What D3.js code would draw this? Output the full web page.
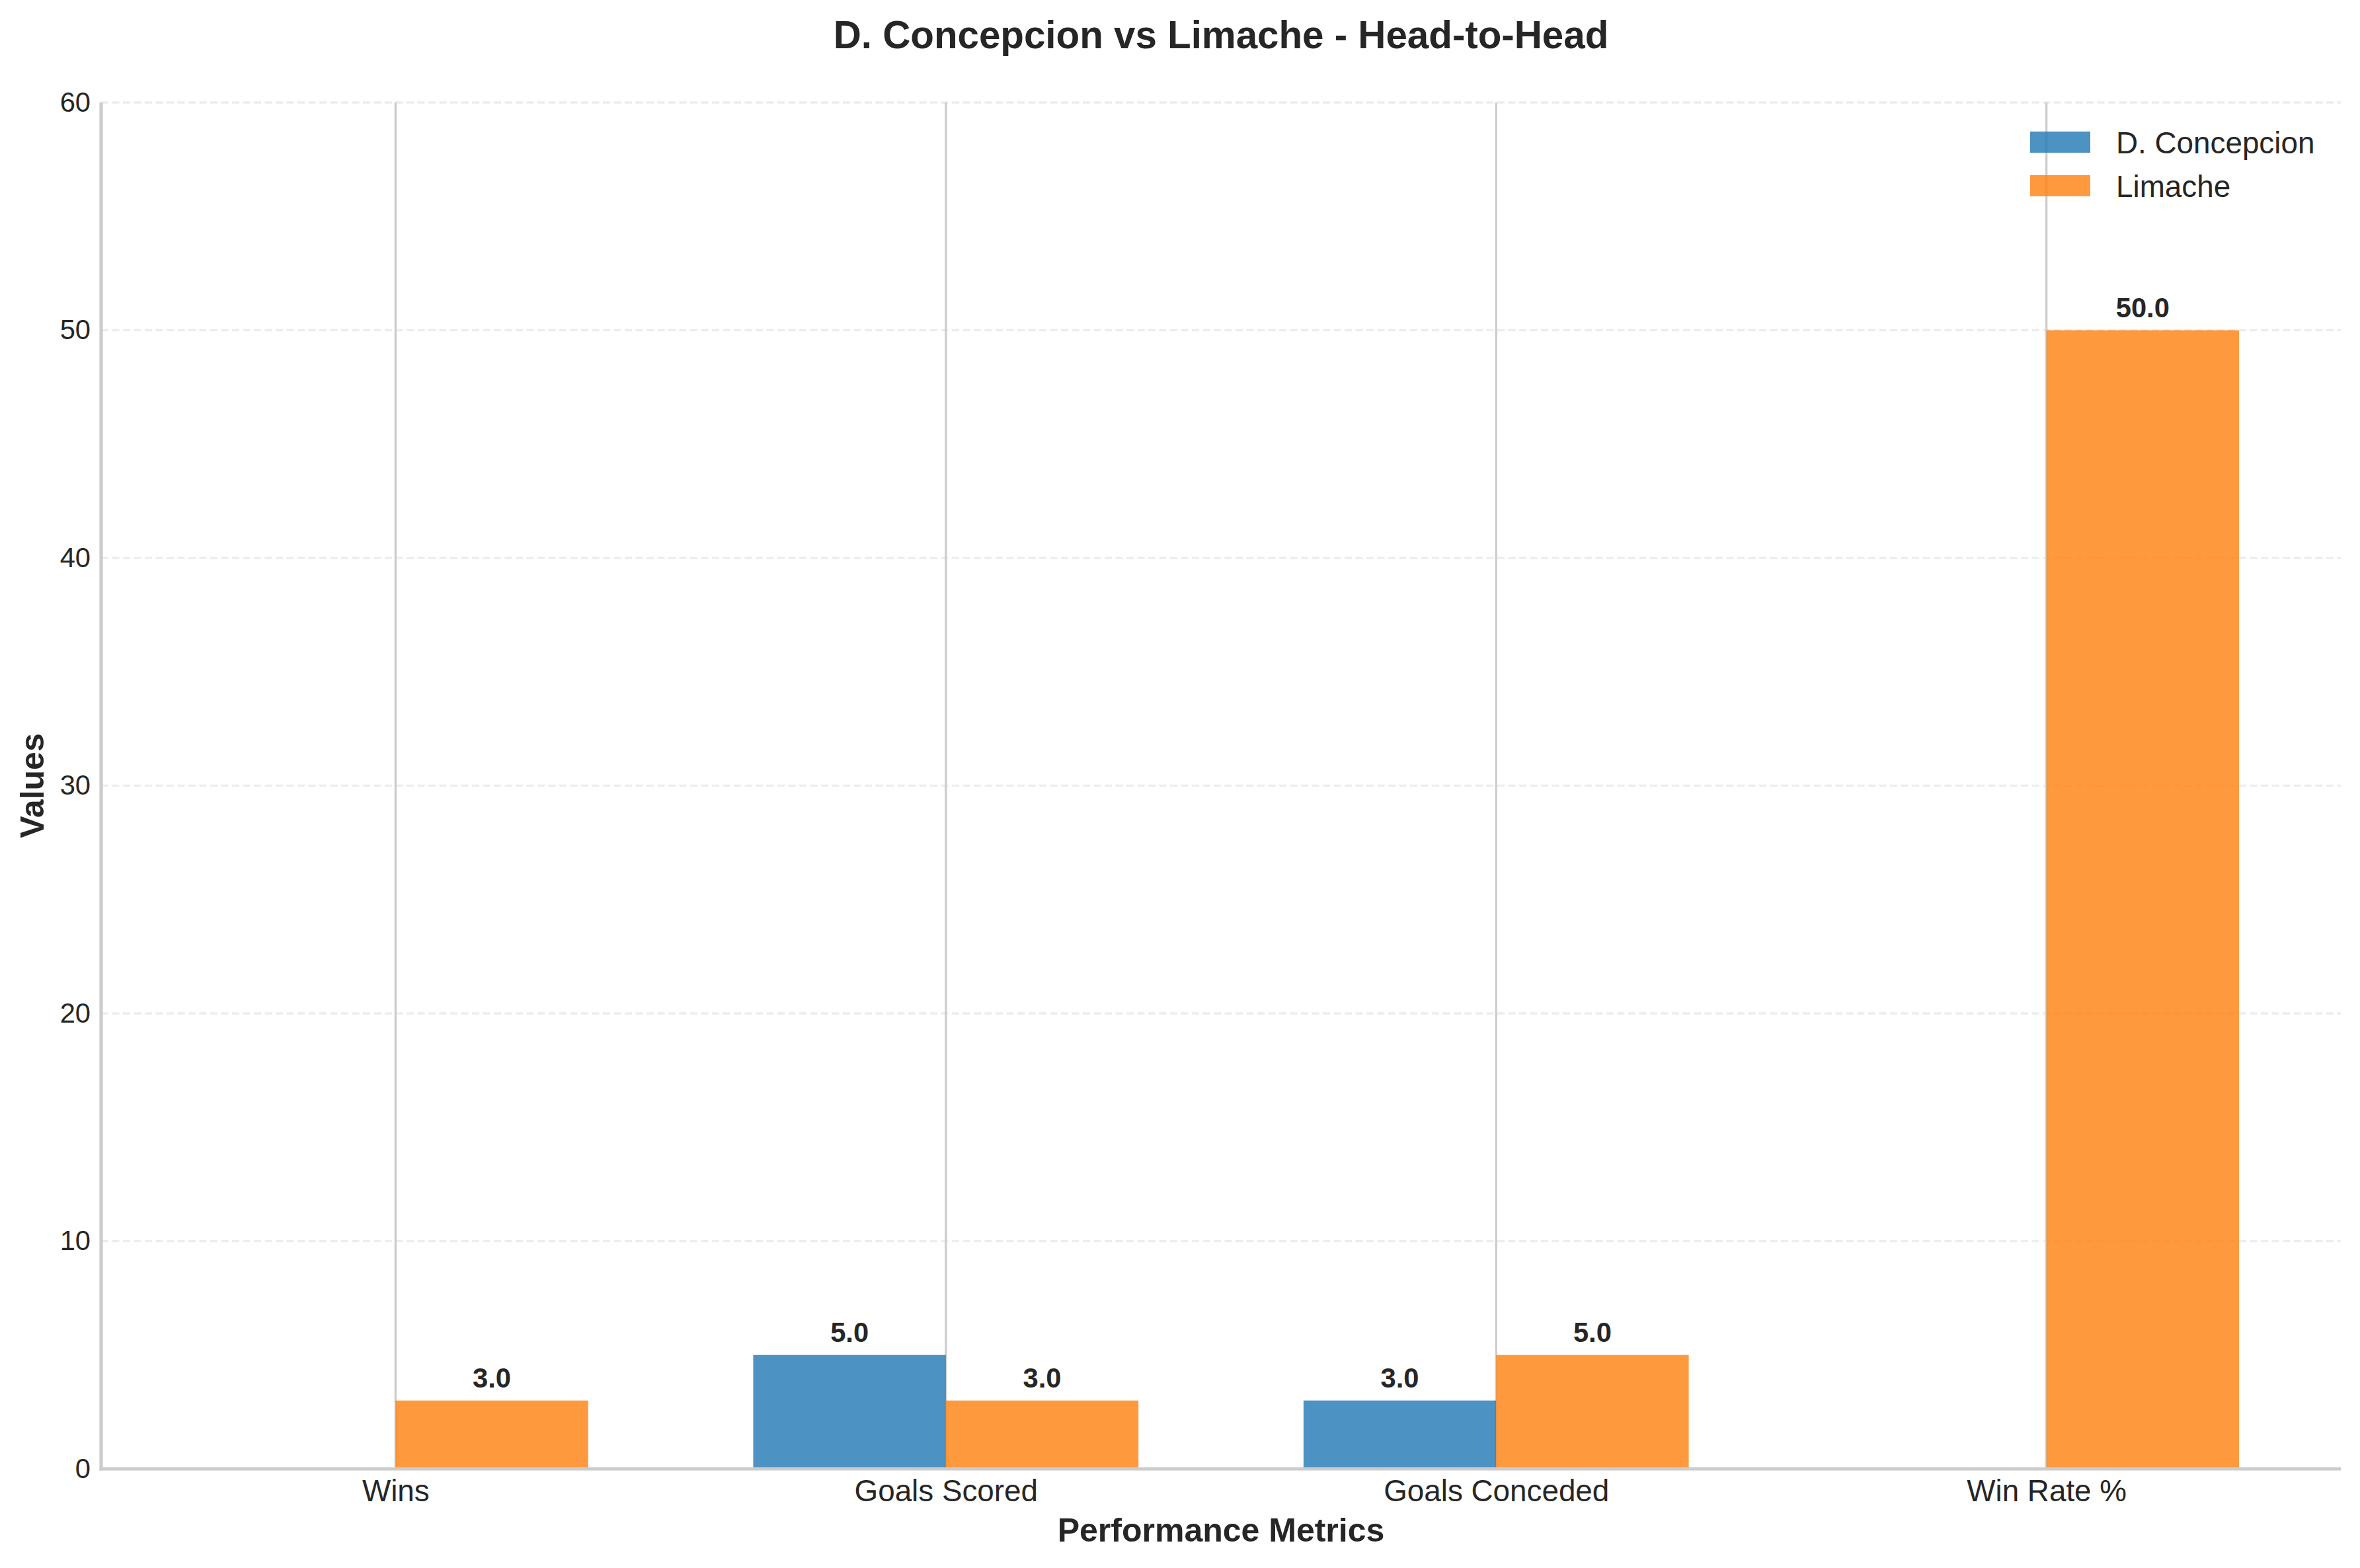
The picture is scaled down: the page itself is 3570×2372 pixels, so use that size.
<!DOCTYPE html>
<html>
<head>
<meta charset="utf-8">
<script src="https://cdn.jsdelivr.net/npm/d3@7"></script>
<style>
  body { margin: 0; background: #fff; }
  text { font-family: "Liberation Sans", Arial, Helvetica, sans-serif; fill: #262626; }
</style>
</head>
<body>
<div id="chart"></div>
<script>
// chart data
const categories = ["Wins", "Goals Scored", "Goals Conceded", "Win Rate %"];
const teams = ["D. Concepcion", "Limache"];
const concepcionValues = [0, 5, 3, 0];
const limacheValues = [3, 3, 5, 50];
const yTicks = [0, 10, 20, 30, 40, 50, 60];
const colors = ["#1f77b4", "#ff7f0e"];

const width = 3570,
  height = 2372,
  margin = { top: 155, bottom: 150, left: 153, right: 29 };

const barWidth = 0.35; // in category units, like matplotlib width=0.35

const svg = d3.select("#chart")
  .append("svg")
  .attr("width", width)
  .attr("height", height);

// x is a continuous index scale, so bars can be offset by half a bar width
const x = d3.scaleLinear()
  .domain([-0.535, categories.length - 1 + 0.535])
  .range([margin.left, width - margin.right]);

const y = d3.scaleLinear()
  .domain([0, 60])
  .range([height - margin.bottom, margin.top]);

// horizontal dashed grid
svg.append("g")
  .selectAll("line")
  .data(yTicks)
  .join("line")
  .attr("x1", x.range()[0])
  .attr("x2", x.range()[1])
  .attr("y1", d => y(d))
  .attr("y2", d => y(d))
  .attr("stroke", "#ccc")
  .attr("stroke-opacity", 0.35)
  .attr("stroke-width", 3.3)
  .attr("stroke-dasharray", "11,5.5");

// vertical grid at category centers
svg.append("g")
  .selectAll("line")
  .data(categories)
  .join("line")
  .attr("x1", (d, i) => x(i))
  .attr("x2", (d, i) => x(i))
  .attr("y1", y(0))
  .attr("y2", y(60))
  .attr("stroke", "#ccc")
  .attr("stroke-width", 3.3);

// bars, one group per team
const series = [concepcionValues, limacheValues];
series.forEach((vals, s) => {
  const offset = s === 0 ? -barWidth / 2 : barWidth / 2;
  const g = svg.append("g");
  g.selectAll("rect")
    .data(vals)
    .join("rect")
    .attr("x", (d, i) => x(i + offset - barWidth / 2))
    .attr("width", (d, i) => x(i + offset + barWidth / 2) - x(i + offset - barWidth / 2))
    .attr("y", d => y(d))
    .attr("height", d => y(0) - y(d))
    .attr("fill", colors[s])
    .attr("fill-opacity", 0.8);

  // value labels, only on non-zero bars
  g.selectAll("text")
    .data(vals.map((v, i) => ({ v, i })).filter(d => d.v > 0))
    .join("text")
    .attr("x", d => x(d.i + offset))
    .attr("y", d => y(d.v) - 20)
    .attr("text-anchor", "middle")
    .attr("font-size", 41.7)
    .attr("font-weight", "bold")
    .text(d => d.v.toFixed(1));
});

// axes
const yAxis = svg.append("g")
  .attr("transform", `translate(${margin.left},0)`)
  .call(d3.axisLeft(y).tickValues(yTicks).tickSize(0).tickPadding(16));
yAxis.select(".domain").remove();
yAxis.selectAll("text").attr("font-size", 41.7).attr("fill", "#262626");

const xAxis = svg.append("g")
  .attr("transform", `translate(0,${y(0)})`)
  .call(d3.axisBottom(x).tickValues(d3.range(categories.length)).tickFormat(i => categories[i]).tickSize(0).tickPadding(16.5));
xAxis.select(".domain").remove();
xAxis.selectAll("text").attr("font-size", 45.8).attr("fill", "#262626");

// spines (left + bottom only)
svg.append("line")
  .attr("x1", margin.left).attr("x2", margin.left)
  .attr("y1", y(60)).attr("y2", y(0) + 2.5)
  .attr("stroke", "#ccc").attr("stroke-width", 5.2);
svg.append("line")
  .attr("x1", margin.left - 2.5).attr("x2", width - margin.right)
  .attr("y1", y(0)).attr("y2", y(0))
  .attr("stroke", "#ccc").attr("stroke-width", 5.2);

// title and axis labels
svg.append("text")
  .attr("x", (x.range()[0] + x.range()[1]) / 2)
  .attr("y", 72.7)
  .attr("text-anchor", "middle")
  .attr("font-size", 58.3)
  .attr("font-weight", "bold")
  .text("D. Concepcion vs Limache - Head-to-Head");

svg.append("text")
  .attr("x", (x.range()[0] + x.range()[1]) / 2)
  .attr("y", 2331.7)
  .attr("text-anchor", "middle")
  .attr("font-size", 50)
  .attr("font-weight", "bold")
  .text("Performance Metrics");

svg.append("text")
  .attr("transform", `translate(66,${(y(0) + y(60)) / 2}) rotate(-90)`)
  .attr("text-anchor", "middle")
  .attr("font-size", 50)
  .attr("font-weight", "bold")
  .text("Values");

// legend
const legend = svg.append("g").attr("transform", "translate(3071,199)");
const items = legend.selectAll("g")
  .data(teams)
  .join("g")
  .attr("transform", (d, i) => `translate(0,${i * 66})`);
items.append("rect")
  .attr("width", 91)
  .attr("height", 32)
  .attr("fill", (d, i) => colors[i])
  .attr("fill-opacity", 0.8);
items.append("text")
  .attr("x", 130)
  .attr("y", 32.5)
  .attr("font-size", 45.8)
  .text(d => d);
</script>
</body>
</html>
